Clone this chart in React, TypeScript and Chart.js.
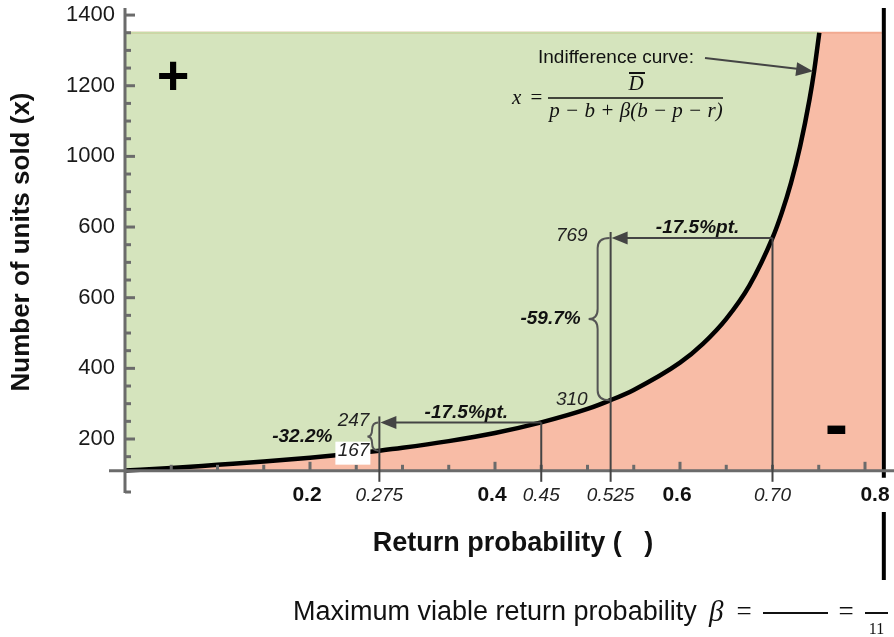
import React, { useEffect, useRef } from 'react';
import { Chart, registerables } from 'chart.js';

Chart.register(...registerables);

// ---- data ----
const betaValues = [0, 0.05, 0.1, 0.15, 0.2, 0.25, 0.275, 0.3, 0.35, 0.4, 0.45, 0.5, 0.525, 0.55, 0.6, 0.625, 0.65, 0.675, 0.7, 0.71, 0.72, 0.73, 0.74, 0.745, 0.7506];
const unitsSold = [111, 118, 127, 136, 147, 160, 167, 175, 194, 217, 247, 285, 310, 339, 416, 470, 540, 634, 769, 840, 925, 1030, 1161, 1241, 1350];
const regionTop = 1350;
const axisCross = 110;
const betaMax = 9 / 11;
const xMin = 0;
const xMax = 0.8227;
const yMin = 50;
const yMax = 1420;
const yMinorStep = 50;
const xMinorStep = 0.05;
const yTickValues = [200, 400, 600, 800, 1000, 1200, 1400];
const yTickLabels = ['200', '400', '600', '600', '1000', '1200', '1400'];
const xBoldTicks = [0.2, 0.4, 0.6, 0.8];
const xBoldLabels = ['0.2', '0.4', '0.6', '0.8'];
const markedBetas = [0.275, 0.45, 0.525, 0.7];
const markedBetaLabels = ['0.275', '0.45', '0.525', '0.70'];
const shiftFrom = [0.45, 0.7];
const shiftTo = [0.275, 0.525];
const shiftUnits = [247, 769];
const shiftLabels = ['-17.5%pt.', '-17.5%pt.'];
const dropHigh = [247, 769];
const dropLow = [167, 310];
const dropLabels = ['-32.2%', '-59.7%'];
const arrowTargetBeta = 0.745;
const arrowTargetUnits = 1241;

const yTitle = 'Number of units sold (x)';
const xTitle = 'Return probability (   )';
const curveNote = 'Indifference curve:';
const bottomNote = 'Maximum viable return probability';

const GREEN = '#D5E4BD';
const GREEN_EDGE = '#C6DCA9';
const PINK = '#F8BCA6';
const PINK_EDGE = '#F2AA91';
const AXIS = '#6b6b6b';
const ANNO = '#444444';
const SANS = '"Liberation Sans", Arial, sans-serif';
const SERIF = '"Liberation Serif", "Times New Roman", serif';

function line(ctx: CanvasRenderingContext2D, x1: number, y1: number, x2: number, y2: number) {
  ctx.beginPath();
  ctx.moveTo(x1, y1);
  ctx.lineTo(x2, y2);
  ctx.stroke();
}

function arrowHead(ctx: CanvasRenderingContext2D, tx: number, ty: number, fx: number, fy: number, len: number, half: number) {
  const a = Math.atan2(ty - fy, tx - fx);
  const bx = tx - len * Math.cos(a);
  const by = ty - len * Math.sin(a);
  ctx.beginPath();
  ctx.moveTo(tx, ty);
  ctx.lineTo(bx + half * Math.sin(a), by - half * Math.cos(a));
  ctx.lineTo(bx - half * Math.sin(a), by + half * Math.cos(a));
  ctx.closePath();
  ctx.fill();
}

function brace(ctx: CanvasRenderingContext2D, xEnd: number, yTop: number, yBot: number) {
  const span = yBot - yTop;
  const depth = Math.min(12, span / 4.5);
  const r = Math.min(10, span / 4);
  const xb = xEnd - depth;
  const xt = xEnd - depth * 1.75;
  const ym = (yTop + yBot) / 2;
  ctx.beginPath();
  ctx.moveTo(xEnd, yTop);
  ctx.quadraticCurveTo(xb, yTop, xb, yTop + r);
  ctx.lineTo(xb, ym - r);
  ctx.quadraticCurveTo(xb, ym, xt, ym);
  ctx.quadraticCurveTo(xb, ym, xb, ym + r);
  ctx.lineTo(xb, yBot - r);
  ctx.quadraticCurveTo(xb, yBot, xEnd, yBot);
  ctx.stroke();
  return xt;
}

const overlay = {
  id: 'overlay',
  afterDraw(chart: any) {
    const { ctx } = chart;
    const xs = chart.scales.x;
    const ys = chart.scales.y;
    const px = (v: number) => xs.getPixelForValue(v);
    const py = (v: number) => ys.getPixelForValue(v);
    const axisY = py(axisCross);
    ctx.save();

    // asymptote line
    ctx.strokeStyle = '#000';
    ctx.lineWidth = 4;
    const ax = px(betaMax) + 2;
    line(ctx, ax, py(yMax), ax, axisY + 7);
    line(ctx, ax, 512, ax, 580);

    // axes
    ctx.strokeStyle = AXIS;
    ctx.lineWidth = 3;
    line(ctx, px(0), py(yMax), px(0), py(yMin) + 1);
    line(ctx, px(0) - 16, axisY, chart.width, axisY);
    for (let v = yMin; v <= 1400; v += yMinorStep) {
      if (Math.abs(v - 100) < 1) continue;
      const len = v % 200 === 0 ? 10 : 6;
      line(ctx, px(0), py(v), px(0) + len, py(v));
    }
    for (let k = 1; k * xMinorStep <= 0.8 + 1e-9; k++) {
      const b = k * xMinorStep;
      const len = k % 4 === 0 ? 9 : 6;
      line(ctx, px(b), axisY, px(b), axisY - len);
    }

    // y tick labels
    ctx.font = '22px ' + SANS;
    ctx.fillStyle = '#1a1a1a';
    ctx.textAlign = 'right';
    ctx.textBaseline = 'middle';
    for (let i = 0; i < yTickValues.length; i++) {
      ctx.fillText(yTickLabels[i], px(0) - 10, py(yTickValues[i]));
    }

    // annotation lines
    ctx.strokeStyle = ANNO;
    ctx.fillStyle = ANNO;
    ctx.lineWidth = 2;
    for (let i = 0; i < shiftFrom.length; i++) {
      const yy = py(shiftUnits[i]);
      line(ctx, px(shiftFrom[i]), yy, px(shiftFrom[i]), axisY + 11);
      line(ctx, px(shiftTo[i]), yy - 6, px(shiftTo[i]), axisY + 11);
      line(ctx, px(shiftFrom[i]), yy, px(shiftTo[i]) + 14, yy);
      arrowHead(ctx, px(shiftTo[i]) + 1, yy, px(shiftFrom[i]), yy, 16, 6.5);
    }

    // braces and value labels
    const valueGap = [9, 22];
    const pctGap = [35, 8];
    for (let i = 0; i < dropHigh.length; i++) {
      const xEnd = px(shiftTo[i]) - 1;
      const yT = py(dropHigh[i]);
      const yB = py(dropLow[i]);
      ctx.strokeStyle = '#555';
      ctx.lineWidth = 2;
      const tip = brace(ctx, xEnd, yT, yB);
      ctx.font = 'italic 19px ' + SANS;
      ctx.textAlign = 'right';
      ctx.textBaseline = 'middle';
      if (i === 0) {
        ctx.fillStyle = '#fff';
        ctx.fillRect(xEnd - valueGap[i] - 34, yB - 9, 35, 23);
      }
      ctx.fillStyle = '#222';
      ctx.fillText(String(dropHigh[i]), xEnd - valueGap[i], yT - 2);
      ctx.fillText(String(dropLow[i]), xEnd - valueGap[i], yB);
      ctx.font = 'bold italic 19px ' + SANS;
      ctx.fillStyle = '#111';
      ctx.fillText(dropLabels[i], tip - pctGap[i], (yT + yB) / 2);
    }

    // shift labels
    ctx.font = 'bold italic 19px ' + SANS;
    ctx.textAlign = 'center';
    ctx.textBaseline = 'middle';
    ctx.fillStyle = '#111';
    for (let i = 0; i < shiftFrom.length; i++) {
      const mid = (px(shiftFrom[i]) + px(shiftTo[i])) / 2 + 6;
      ctx.fillText(shiftLabels[i], mid, py(shiftUnits[i]) - 10);
    }

    // x tick labels
    ctx.font = 'bold 21px ' + SANS;
    ctx.fillStyle = '#111';
    for (let i = 0; i < xBoldTicks.length; i++) {
      const off = i === xBoldTicks.length - 1 ? 10 : -3;
      ctx.fillText(xBoldLabels[i], px(xBoldTicks[i]) + off, axisY + 24);
    }
    ctx.font = 'italic 19px ' + SANS;
    ctx.fillStyle = '#222';
    for (let i = 0; i < markedBetas.length; i++) {
      ctx.fillText(markedBetaLabels[i], px(markedBetas[i]), axisY + 25);
    }

    // axis titles
    ctx.font = 'bold 27px ' + SANS;
    ctx.fillStyle = '#111';
    ctx.textBaseline = 'alphabetic';
    ctx.fillText(xTitle, 513, 551);
    ctx.save();
    ctx.translate(29, 242);
    ctx.rotate(-Math.PI / 2);
    ctx.font = 'bold 26px ' + SANS;
    ctx.textAlign = 'center';
    ctx.fillText(yTitle, 0, 0);
    ctx.restore();

    // +/- signs
    ctx.textAlign = 'center';
    ctx.fillStyle = '#000';
    ctx.font = 'bold 56px ' + SANS;
    ctx.fillText('+', px(0.052), py(1229) + 19);
    ctx.font = 'bold 70px ' + SANS;
    ctx.fillText('-', px(0.769), py(231) + 20);

    // indifference curve note + arrow
    ctx.font = '19px ' + SANS;
    ctx.textAlign = 'left';
    ctx.fillStyle = '#111';
    ctx.fillText(curveNote, 538, 63);
    ctx.strokeStyle = ANNO;
    ctx.fillStyle = ANNO;
    ctx.lineWidth = 2;
    const tx = px(arrowTargetBeta) - 1;
    const ty = py(arrowTargetUnits);
    line(ctx, 705, 58, tx - 12, ty - 2);
    arrowHead(ctx, tx, ty, 705, 58, 17, 7);

    // formula
    ctx.fillStyle = '#111';
    ctx.strokeStyle = '#111';
    ctx.font = 'italic 21px ' + SERIF;
    ctx.textAlign = 'left';
    ctx.fillText('x', 512, 104);
    ctx.font = '21px ' + SERIF;
    ctx.textAlign = 'center';
    ctx.fillText('=', 536.5, 104);
    ctx.lineWidth = 1.5;
    line(ctx, 548, 98, 723, 98);
    ctx.font = 'italic 21px ' + SERIF;
    ctx.fillText('D', 636, 90);
    ctx.lineWidth = 2;
    line(ctx, 629, 73, 645, 73);
    ctx.fillText('p \u2212 b + \u03B2(b \u2212 p \u2212 r)', 636, 117);

    // bottom note
    ctx.textAlign = 'left';
    ctx.font = '27px ' + SANS;
    ctx.fillText(bottomNote, 293, 620);
    ctx.font = 'italic 29px ' + SERIF;
    ctx.fillText('\u03B2', 709, 621);
    ctx.font = '27px ' + SERIF;
    ctx.textAlign = 'center';
    ctx.fillText('=', 744, 620);
    ctx.fillText('=', 846, 620);
    ctx.lineWidth = 2;
    line(ctx, 763, 613, 828, 613);
    line(ctx, 865, 613, 888, 613);
    ctx.font = '16px ' + SERIF;
    ctx.fillText('11', 876.5, 634);

    ctx.restore();
  },
};

export default function App() {
  const ref = useRef<HTMLCanvasElement | null>(null);
  useEffect(() => {
    if (!ref.current) return;
    const chart = new Chart(ref.current, {
      type: 'line',
      data: {
        datasets: [
          {
            label: 'Indifference curve',
            data: betaValues.map((b, i) => ({ x: b, y: unitsSold[i] })),
            borderColor: '#000',
            borderWidth: 4.5,
            pointRadius: 0,
            cubicInterpolationMode: 'monotone',
            fill: { value: regionTop },
            backgroundColor: GREEN,
          },
          {
            label: 'green top',
            data: [{ x: 0, y: regionTop }, { x: betaValues[betaValues.length - 1], y: regionTop }],
            borderColor: GREEN_EDGE,
            borderWidth: 2,
            pointRadius: 0,
            fill: false,
          },
          {
            label: 'loss region',
            data: [{ x: 0, y: regionTop }, { x: betaMax, y: regionTop }],
            borderColor: PINK_EDGE,
            borderWidth: 2,
            pointRadius: 0,
            fill: { value: axisCross },
            backgroundColor: PINK,
          },
        ],
      },
      options: {
        animation: false,
        responsive: true,
        maintainAspectRatio: false,
        events: [],
        layout: { padding: { left: 125, right: 8, top: 8, bottom: 145 } },
        plugins: {
          legend: { display: false },
          tooltip: { enabled: false },
          filler: { drawTime: 'beforeDatasetsDraw' },
        },
        scales: {
          x: { type: 'linear', min: xMin, max: xMax, display: false },
          y: { type: 'linear', min: yMin, max: yMax, display: false },
        },
      } as any,
      plugins: [overlay],
    });
    return () => chart.destroy();
  }, []);
  return (
    <div style={{ position: 'absolute', left: 0, top: 0, width: 894, height: 637 }}>
      <canvas ref={ref} />
    </div>
  );
}
